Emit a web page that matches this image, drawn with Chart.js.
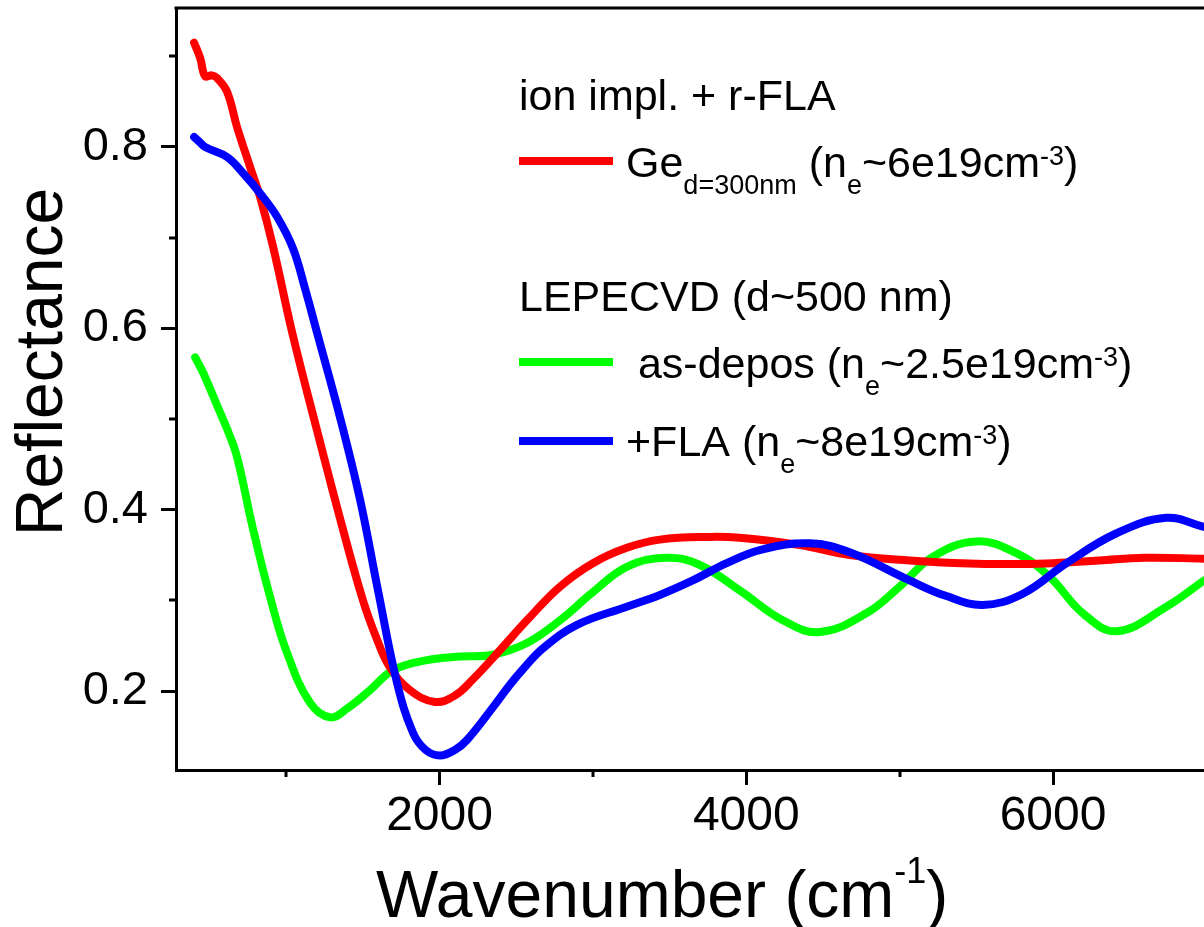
<!DOCTYPE html>
<html>
<head>
<meta charset="utf-8">
<script src="https://cdn.jsdelivr.net/npm/chart.js@4.4.0/dist/chart.umd.min.js"></script>
<style>
  html, body { margin: 0; padding: 0; background: #fff; overflow: hidden; }
  #wrap { width: 1204px; height: 927px; }
</style>
</head>
<body>
<div id="wrap"><canvas id="LineChart" width="1204" height="927"></canvas></div>
<script>
// values (wavenumber in cm^-1, reflectance)
const redX = [400, 440, 472, 515, 550, 615, 680, 765, 830, 915, 1040, 1202, 1371, 1501, 1590, 1677, 1807, 1970, 2100, 2218, 2394, 2570, 2785, 3000, 3221, 3436, 3762, 3957, 4348, 4674, 5065, 5400, 5700, 6000, 6300, 6600, 6984];
const redY = [0.915, 0.898, 0.878, 0.879, 0.876, 0.861, 0.822, 0.778, 0.745, 0.690, 0.595, 0.487, 0.378, 0.300, 0.258, 0.226, 0.201, 0.188, 0.195, 0.213, 0.245, 0.278, 0.315, 0.341, 0.358, 0.367, 0.370, 0.369, 0.361, 0.350, 0.344, 0.341, 0.340, 0.341, 0.344, 0.347, 0.346];

const greenX = [407, 459, 570, 620, 680, 785, 895, 1006, 1156, 1286, 1400, 1547, 1697, 1918, 2133, 2348, 2570, 2785, 3000, 3221, 3480, 3697, 3957, 4238, 4479, 4785, 4999, 5215, 5500, 5762, 5977, 6193, 6414, 6739, 6984];
const greenY = [0.568, 0.551, 0.507, 0.487, 0.458, 0.378, 0.304, 0.242, 0.187, 0.171, 0.181, 0.201, 0.223, 0.234, 0.238, 0.240, 0.253, 0.278, 0.309, 0.337, 0.347, 0.339, 0.311, 0.278, 0.265, 0.286, 0.315, 0.348, 0.365, 0.352, 0.326, 0.286, 0.266, 0.293, 0.322];

const blueX = [400, 439, 472, 615, 720, 830, 941, 1045, 1123, 1202, 1351, 1482, 1600, 1723, 1827, 1910, 2003, 2100, 2179, 2348, 2459, 2544, 2674, 2896, 3221, 3436, 3651, 3872, 4100, 4414, 4674, 5065, 5300, 5541, 5800, 6088, 6414, 6739, 6984];
const blueY = [0.811, 0.805, 0.800, 0.789, 0.771, 0.749, 0.723, 0.688, 0.644, 0.595, 0.502, 0.411, 0.310, 0.209, 0.154, 0.135, 0.129, 0.135, 0.146, 0.182, 0.207, 0.224, 0.247, 0.273, 0.293, 0.306, 0.322, 0.341, 0.356, 0.363, 0.353, 0.322, 0.305, 0.295, 0.307, 0.341, 0.374, 0.391, 0.381];

const yMajorTicks = [0.2, 0.4, 0.6, 0.8];
const yMinorTicks = [0.3, 0.5, 0.7, 0.9];
const xMajorTicks = [2000, 4000, 6000];
const xMinorTicks = [1000, 3000, 5000];

const xTitle = [['Wavenumber (cm', ''], ['-1', 'sup'], [')', '']];
const yTitle = 'Reflectance';

const legendHead1 = 'ion impl. + r-FLA';
const legendHead2 = 'LEPECVD (d~500 nm)';
const redLabel = [['Ge', ''], ['d=300nm', 'sub'], [' (n', ''], ['e', 'sub'], ['~6e19cm', ''], ['-3', 'sup'], [')', '']];
const greenLabel = [[' as-depos (n', ''], ['e', 'sub'], ['~2.5e19cm', ''], ['-3', 'sup'], [')', '']];
const blueLabel = [['+FLA (n', ''], ['e', 'sub'], ['~8e19cm', ''], ['-3', 'sup'], [')', '']];

const FONT = '"Liberation Sans", Arial, Helvetica, sans-serif';

const toPoints = (xs, ys) => xs.map((x, i) => ({ x: x, y: ys[i] }));

function drawRich(ctx, x, y, parts, size, small, subDy, supDy) {
    parts.forEach(([txt, kind]) => {
        ctx.font = (kind ? small : size) + 'px ' + FONT;
        let dy = 0;
        if (kind === 'sub') dy = subDy;
        if (kind === 'sup') dy = supDy;
        ctx.fillText(txt, x, y + dy);
        x += ctx.measureText(txt).width;
    });
}

const extras = {
    id: 'extras',
    afterDraw(chart) {
        const ctx = chart.ctx;
        const area = chart.chartArea;
        const xs = chart.scales.x, ys = chart.scales.y;
        ctx.save();
        ctx.strokeStyle = '#000';
        ctx.lineWidth = 3;
        // top frame line
        ctx.beginPath();
        ctx.moveTo(area.left - 1.5, area.top);
        ctx.lineTo(area.right, area.top);
        ctx.stroke();
        // minor ticks
        yMinorTicks.forEach(v => {
            const p = Math.round(ys.getPixelForValue(v));
            ctx.beginPath();
            ctx.moveTo(area.left - 7, p);
            ctx.lineTo(area.left, p);
            ctx.stroke();
        });
        xMinorTicks.forEach(v => {
            const p = Math.round(xs.getPixelForValue(v));
            ctx.beginPath();
            ctx.moveTo(p, area.bottom);
            ctx.lineTo(p, area.bottom + 7);
            ctx.stroke();
        });

        ctx.fillStyle = '#000';
        ctx.textBaseline = 'alphabetic';
        ctx.textAlign = 'left';

        // axis titles
        drawRich(ctx, 376, 917, xTitle, 66, 36, 0, -34);
        ctx.save();
        ctx.translate(62, 362);
        ctx.rotate(-Math.PI / 2);
        ctx.textAlign = 'center';
        ctx.font = '66px ' + FONT;
        ctx.fillText(yTitle, 0, 0);
        ctx.restore();

        // legend
        ctx.font = '43px ' + FONT;
        ctx.fillText(legendHead1, 519, 110);
        ctx.fillText(legendHead2, 519, 311);
        const rows = [
            { color: '#ff0000', y: 161, base: 177, parts: redLabel },
            { color: '#00ff00', y: 362, base: 378, parts: greenLabel },
            { color: '#0000ff', y: 441, base: 456, parts: blueLabel }
        ];
        rows.forEach(r => {
            ctx.strokeStyle = r.color;
            ctx.lineWidth = 8;
            ctx.beginPath();
            ctx.moveTo(519, r.y);
            ctx.lineTo(613, r.y);
            ctx.stroke();
            drawRich(ctx, 626, r.base, r.parts, 43, 27, 17, -12);
        });
        ctx.restore();
    }
};

const lineStyle = {
    fill: false,
    borderWidth: 8,
    pointRadius: 0,
    borderCapStyle: 'round',
    borderJoinStyle: 'round',
    tension: 0.4
};

const ctx = document.getElementById('LineChart').getContext('2d');
new Chart(ctx, {
    type: 'line',
    data: {
        datasets: [
            Object.assign({ label: '+FLA', data: toPoints(blueX, blueY), borderColor: '#0000ff' }, lineStyle),
            Object.assign({ label: 'Ge d=300nm', data: toPoints(redX, redY), borderColor: '#ff0000' }, lineStyle),
            Object.assign({ label: 'as-depos', data: toPoints(greenX, greenY), borderColor: '#00ff00' }, lineStyle)
        ]
    },
    options: {
        responsive: false,
        animation: false,
        devicePixelRatio: 1,
        layout: { padding: { top: 8, right: 0, left: 0, bottom: 0 } },
        plugins: { legend: { display: false }, tooltip: { enabled: false } },
        scales: {
            x: {
                type: 'linear',
                min: 282,
                max: 6984,
                afterFit: s => { s.height = 157; s.paddingLeft = 0; s.paddingRight = 0; },
                afterBuildTicks: s => { s.ticks = xMajorTicks.map(v => ({ value: v })); },
                border: { display: true, color: '#000', width: 3 },
                grid: { drawOnChartArea: false, drawTicks: true, tickLength: 15, tickWidth: 3, tickColor: '#000' },
                ticks: {
                    color: '#000',
                    padding: 3,
                    maxRotation: 0,
                    font: { family: FONT, size: 48 },
                    callback: v => String(v)
                }
            },
            y: {
                type: 'linear',
                min: 0.1129,
                max: 0.9533,
                afterFit: s => { s.width = 176; s.paddingTop = 0; s.paddingBottom = 0; },
                afterBuildTicks: s => { s.ticks = yMajorTicks.map(v => ({ value: v })); },
                border: { display: true, color: '#000', width: 3 },
                grid: { drawOnChartArea: false, drawTicks: true, tickLength: 15, tickWidth: 3, tickColor: '#000' },
                ticks: {
                    color: '#000',
                    padding: 13,
                    font: { family: FONT, size: 47 },
                    callback: v => v.toFixed(1)
                }
            }
        }
    },
    plugins: [extras]
});
</script>
</body>
</html>
